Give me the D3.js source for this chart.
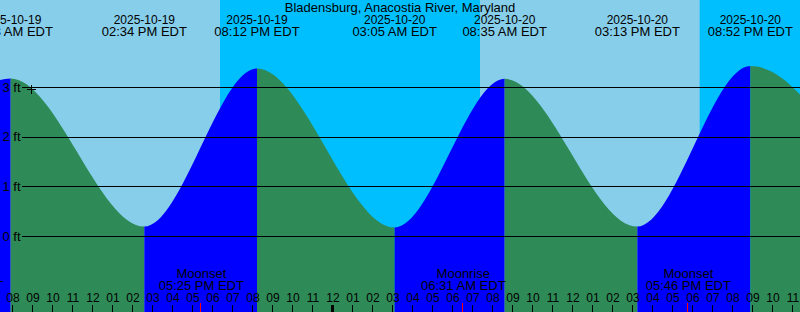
<!DOCTYPE html>
<html>
<head>
<meta charset="utf-8">
<script src="https://cdn.jsdelivr.net/npm/d3@7"></script>
<style>
  body { margin: 0; overflow: hidden; }
  text { font-family: "Liberation Sans", Arial, sans-serif; font-size: 13px; fill: #000; }
  text.small { font-size: 12px; }
</style>
</head>
<body>
<script>
// Tide extremes (wall clock, EDT) and heights in feet.
var tideTimes = ["2025-10-19 01:40", "2025-10-19 07:53", "2025-10-19 14:34", "2025-10-19 20:12",
                 "2025-10-20 03:05", "2025-10-20 08:35", "2025-10-20 15:13", "2025-10-20 20:52",
                 "2025-10-21 03:40"];
var tideLevels = [0.2, 3.18, 0.19, 3.38, 0.17, 3.17, 0.19, 3.43, 0.15];

// Moon events.
var moonTimes = ["2025-10-19 05:24", "2025-10-19 17:25", "2025-10-20 06:31", "2025-10-20 17:46"];
var moonEvents = ["Moonrise", "Moonset", "Moonrise", "Moonset"];

// Night periods.
var nightStart = ["2025-10-19 18:21", "2025-10-20 18:20"];
var nightEnd = ["2025-10-20 07:21", "2025-10-21 07:22"];

// Y axis ticks (ft).
var levelTicks = [0, 1, 2, 3];

// Marker (+) on the curve.
var markTime = "2025-10-19 08:54";
var markLevel = 2.97;

var title = "Bladensburg, Anacostia River, Maryland";

var W = 800, H = 312;
var parse = d3.utcParse("%Y-%m-%d %H:%M");
var fmtDate = d3.utcFormat("%Y-%m-%d");
var fmtTime = d3.utcFormat("%I:%M %p EDT");

var svg = d3.select("body")
  .append("svg")
  .attr("width", W)
  .attr("height", H);

// 20 px per hour, midnight Oct 20 at x=333.
var x = d3.scaleUtc()
  .domain([parse("2025-10-19 00:00"), parse("2025-10-21 00:00")])
  .range([333 - 480, 333 + 480]);
var y = d3.scaleLinear().domain([0, 3]).range([236, 87.3]);

var tide = tideTimes.map(function(t, i){ return {t: parse(t), v: tideLevels[i]}; });

// Day background + night bands.
svg.append("rect").attr("width", W).attr("height", H).attr("fill", "#87CEEB");
svg.selectAll("rect.night")
  .data(nightStart.map(function(s, i){ return [parse(s), parse(nightEnd[i])]; }))
  .enter()
  .append("rect")
    .attr("class", "night")
    .attr("x", function(d){ return x(d[0]); })
    .attr("width", function(d){ return x(d[1]) - x(d[0]); })
    .attr("y", 0)
    .attr("height", H)
    .attr("fill", "#00BFFF");

// Tide area used as clip.
var area = d3.area()
  .x(function(d){ return x(d.t); })
  .y0(H)
  .y1(function(d){ return y(d.v); })
  .curve(d3.curveMonotoneX);

svg.append("clipPath").attr("id", "tideClip")
  .append("path").attr("d", area(tide));

// Rising = blue, falling = green.
var segs = d3.pairs(tide);
svg.append("g").attr("clip-path", "url(#tideClip)")
  .selectAll("rect")
  .data(segs)
  .enter()
  .append("rect")
    .attr("x", function(d){ return x(d[0].t); })
    .attr("width", function(d){ return x(d[1].t) - x(d[0].t); })
    .attr("y", 0)
    .attr("height", H)
    .attr("fill", function(d){ return d[1].v > d[0].v ? "#0000FF" : "#2E8B57"; });

// Level lines and labels.
svg.selectAll("line.grid")
  .data(levelTicks)
  .enter()
  .append("line")
    .attr("x1", 22).attr("x2", W)
    .attr("y1", function(d){ return Math.round(y(d)) + 0.5; })
    .attr("y2", function(d){ return Math.round(y(d)) + 0.5; })
    .attr("stroke", "#000");
svg.selectAll("text.lvl")
  .data(levelTicks)
  .enter()
  .append("text")
    .attr("x", 20.5)
    .attr("y", function(d){ return y(d) + 4.5; })
    .attr("text-anchor", "end")
    .text(function(d){ return d + " ft"; });

// Plus marker.
var mx = Math.round(x(parse(markTime))) + 0.5, my = Math.round(y(markLevel)) + 0.5;
svg.append("path")
  .attr("d", "M" + (mx - 4.5) + "," + my + "H" + (mx + 4.5) + "M" + mx + "," + (my - 4.5) + "V" + (my + 4.5))
  .attr("stroke", "#000");

// Title.
svg.append("text").attr("x", 400).attr("y", 12).attr("text-anchor", "middle").text(title);

// Tide extreme labels.
var lab = svg.selectAll("g.ext").data(tide).enter().append("g");
lab.append("text")
  .attr("class", "small")
  .attr("x", function(d){ return x(d.t); }).attr("y", 23.8)
  .attr("text-anchor", "middle")
  .text(function(d){ return fmtDate(d.t); });
lab.append("text")
  .attr("x", function(d){ return x(d.t); }).attr("y", 35.5)
  .attr("text-anchor", "middle")
  .text(function(d){ return fmtTime(d.t); });

// Moon labels.
var moon = moonTimes.map(function(t, i){ return {t: parse(t), name: moonEvents[i]}; });
var ml = svg.selectAll("g.moon").data(moon).enter().append("g");
ml.append("text")
  .attr("x", function(d){ return x(d.t); }).attr("y", 278)
  .attr("text-anchor", "middle")
  .text(function(d){ return d.name; });
ml.append("text")
  .attr("x", function(d){ return x(d.t); }).attr("y", 289.8)
  .attr("text-anchor", "middle")
  .text(function(d){ return fmtTime(d.t); });

// Hour labels and ticks.
var hours = d3.utcHour.range(parse("2025-10-19 07:00"), parse("2025-10-21 00:00"));
svg.selectAll("text.hr")
  .data(hours)
  .enter()
  .append("text")
    .attr("class", "small")
    .attr("x", function(d){ return x(d); })
    .attr("y", 301.5)
    .attr("text-anchor", "middle")
    .text(d3.utcFormat("%I"));
svg.selectAll("line.tick")
  .data(hours)
  .enter()
  .append("line")
    .attr("x1", function(d){ return Math.round(x(d)) - 0.5; })
    .attr("x2", function(d){ return Math.round(x(d)) - 0.5; })
    .attr("y1", 305).attr("y2", H)
    .attr("stroke", "#000")
    .attr("stroke-width", function(d){ return d.getUTCHours() == 0 ? 3 : 1; });

// Moon event ticks.
svg.selectAll("line.mtick")
  .data(moon)
  .enter()
  .append("line")
    .attr("x1", function(d){ return Math.round(x(d.t)) - 0.5; })
    .attr("x2", function(d){ return Math.round(x(d.t)) - 0.5; })
    .attr("y1", 303).attr("y2", H)
    .attr("stroke", "#FF0000");
</script>
</body>
</html>
